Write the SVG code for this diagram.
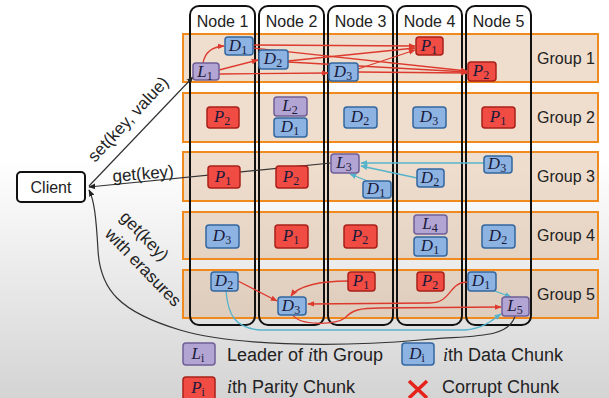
<svg xmlns="http://www.w3.org/2000/svg" width="609" height="398" viewBox="0 0 609 398">
<defs>
<linearGradient id="bg" x1="0" y1="0" x2="0" y2="1">
<stop offset="0" stop-color="#ffffff"/>
<stop offset="0.4" stop-color="#ffffff"/>
<stop offset="1" stop-color="#d4d4d4"/>
</linearGradient>
<marker id="ar" viewBox="0 0 10 10" refX="9" refY="5" markerWidth="7" markerHeight="7" markerUnits="userSpaceOnUse" orient="auto"><path d="M0,1 L10,5 L0,9z" fill="#dd3a2e"/></marker>
<marker id="ac" viewBox="0 0 10 10" refX="9" refY="5" markerWidth="7" markerHeight="7" markerUnits="userSpaceOnUse" orient="auto"><path d="M0,1 L10,5 L0,9z" fill="#55b4cc"/></marker>
<marker id="ak" viewBox="0 0 10 10" refX="9" refY="5" markerWidth="7" markerHeight="7" markerUnits="userSpaceOnUse" orient="auto"><path d="M0,1 L10,5 L0,9z" fill="#222"/></marker>
<style>
.grp{fill:#d9ae88;fill-opacity:0.42;stroke:#f08a1e;stroke-width:2}
.col{fill:none;stroke:#111;stroke-width:2}
.lbl{font-family:"Liberation Sans",Arial,sans-serif;font-size:16px;fill:#222}
.L{fill:#b3a5d3;stroke:#6f5f98;stroke-width:1.5}
.D{fill:#8db3e2;stroke:#33679f;stroke-width:1.5}
.P{fill:#f04c44;stroke:#a82019;stroke-width:1.5}
.ct{font-family:"Liberation Serif","Times New Roman",serif;font-style:italic;font-size:17px;fill:#1a1a3a;text-anchor:middle}
.sub{font-size:12px;font-style:normal}
.rl{fill:none;stroke:#dd3a2e;stroke-width:1.3;marker-end:url(#ar)}
.cl{fill:none;stroke:#55b4cc;stroke-width:1.3;marker-end:url(#ac)}
.kl{fill:none;stroke:#333;stroke-width:1.2;marker-end:url(#ak)}
.it{font-family:"Liberation Serif",serif;font-style:italic}
.lg{font-size:18px}
.rot{font-size:17px}
</style>
</defs>
<rect x="0" y="0" width="609" height="398" fill="url(#bg)"/>

<!-- groups -->
<g id="group1"><rect class="grp" x="183" y="34" width="415" height="48"/><text class="lbl" x="566" y="64" text-anchor="middle">Group 1</text></g>
<g id="group2"><rect class="grp" x="183" y="93" width="415" height="49"/><text class="lbl" x="566" y="123" text-anchor="middle">Group 2</text></g>
<g id="group3"><rect class="grp" x="183" y="152" width="415" height="49"/><text class="lbl" x="566" y="182" text-anchor="middle">Group 3</text></g>
<g id="group4"><rect class="grp" x="183" y="212" width="415" height="47"/><text class="lbl" x="566" y="241" text-anchor="middle">Group 4</text></g>
<g id="group5"><rect class="grp" x="183" y="270" width="415" height="48"/><text class="lbl" x="566" y="300" text-anchor="middle">Group 5</text></g>

<!-- node columns -->
<g id="node1"><rect class="col" x="190" y="6" width="65" height="319" rx="9"/><text class="lbl" x="222.5" y="27" text-anchor="middle">Node 1</text></g>
<g id="node2"><rect class="col" x="259" y="6" width="65" height="319" rx="9"/><text class="lbl" x="291.5" y="27" text-anchor="middle">Node 2</text></g>
<g id="node3"><rect class="col" x="328" y="6" width="65" height="319" rx="9"/><text class="lbl" x="360.5" y="27" text-anchor="middle">Node 3</text></g>
<g id="node4"><rect class="col" x="397" y="6" width="65" height="319" rx="9"/><text class="lbl" x="429.5" y="27" text-anchor="middle">Node 4</text></g>
<g id="node5"><rect class="col" x="466" y="6" width="65" height="319" rx="9"/><text class="lbl" x="498.5" y="27" text-anchor="middle">Node 5</text></g>

<!-- client -->
<g id="client"><rect x="17" y="172" width="68" height="30" rx="4" fill="#fff" stroke="#111" stroke-width="2"/><text class="lbl" x="51" y="193" text-anchor="middle" font-size="17">Client</text></g>

<!-- connectors -->
<g id="connectors">
<path class="rl" d="M203,63 Q206,47 224,46"/>
<path class="rl" d="M219,70 L258,60"/>
<path class="rl" d="M219,74 L328,73"/>
<path class="rl" d="M253,45 L415,46"/>
<path class="rl" d="M253,48 L467,71"/>
<path class="rl" d="M288,61 L415,48"/>
<path class="rl" d="M288,62 L467,72"/>
<path class="rl" d="M358,69 L415,50"/>
<path class="rl" d="M358,72 L467,73"/>

<path class="cl" d="M484,163 L361,163"/>
<path class="cl" d="M417,178 L361,166"/>
<path class="cl" d="M370,182 L350,174"/>

<path class="rl" d="M238,281 L277,301"/>
<path class="rl" d="M348,281 C320,281 298,286 291,296"/>
<path class="rl" d="M468,282 C448,282 452,303 430,303 L308,304"/>
<path class="rl" d="M293,315 C300,326 335,325 345,318 C352,310 360,308 380,308 L501,307"/>
<path class="cl" d="M492,290 L511,297"/>
<path class="cl" d="M226,291 C228,315 235,328 260,330 L465,330 C485,328 492,320 501,314"/>

<path class="kl" d="M89,186 L193,77"/>
<path class="kl" d="M331,163 L89,187"/>
<path class="kl" d="M515,316 C508,340 470,335 420,340 C330,348 230,345 180,330 C120,312 100,290 98,250 C96,215 94,200 89,190"/>
</g>
<text class="lbl rot" transform="translate(95,163) rotate(-47)">set(key, value)</text>
<text class="lbl rot" transform="translate(113,182) rotate(-5)">get(key)</text>
<text class="lbl rot" transform="translate(119,218) rotate(46)">get(key)</text>
<text class="lbl rot" transform="translate(104,235) rotate(46)">with erasures</text>

<!-- chunks group 1 -->
<g id="g1L1"><rect class="L" x="193" y="63" width="26" height="17" rx="3"/><text class="ct" x="205" y="77">L<tspan class="sub" dy="3">1</tspan></text></g>
<g id="g1D1"><rect class="D" x="225" y="37" width="28" height="18" rx="3"/><text class="ct" x="238" y="51">D<tspan class="sub" dy="3">1</tspan></text></g>
<g id="g1D2"><rect class="D" x="259" y="50" width="29" height="19" rx="3"/><text class="ct" x="273" y="64">D<tspan class="sub" dy="3">2</tspan></text></g>
<g id="g1D3"><rect class="D" x="329" y="63" width="29" height="18" rx="3"/><text class="ct" x="343" y="77">D<tspan class="sub" dy="3">3</tspan></text></g>
<g id="g1P1"><rect class="P" x="416" y="37" width="27" height="18" rx="3"/><text class="ct" x="429" y="51">P<tspan class="sub" dy="3">1</tspan></text></g>
<g id="g1P2"><rect class="P" x="468" y="62" width="28" height="19" rx="3"/><text class="ct" x="481" y="76">P<tspan class="sub" dy="3">2</tspan></text></g>

<!-- group 2 -->
<g id="g2P2"><rect class="P" x="207" y="107" width="32" height="21" rx="3"/><text class="ct" x="222" y="122">P<tspan class="sub" dy="3">2</tspan></text></g>
<g id="g2L2"><rect class="L" x="274" y="97" width="33" height="19" rx="3"/><text class="ct" x="290" y="111">L<tspan class="sub" dy="3">2</tspan></text></g>
<g id="g2D1"><rect class="D" x="274" y="118" width="33" height="19" rx="3"/><text class="ct" x="290" y="132">D<tspan class="sub" dy="3">1</tspan></text></g>
<g id="g2D2"><rect class="D" x="344" y="107" width="33" height="21" rx="3"/><text class="ct" x="360" y="122">D<tspan class="sub" dy="3">2</tspan></text></g>
<g id="g2D3"><rect class="D" x="413" y="107" width="33" height="21" rx="3"/><text class="ct" x="429" y="122">D<tspan class="sub" dy="3">3</tspan></text></g>
<g id="g2P1"><rect class="P" x="482" y="107" width="33" height="21" rx="3"/><text class="ct" x="498" y="122">P<tspan class="sub" dy="3">1</tspan></text></g>

<!-- group 3 -->
<g id="g3P1"><rect class="P" x="208" y="166" width="32" height="22" rx="3"/><text class="ct" x="223" y="182">P<tspan class="sub" dy="3">1</tspan></text></g>
<g id="g3P2"><rect class="P" x="276" y="166" width="32" height="22" rx="3"/><text class="ct" x="291" y="182">P<tspan class="sub" dy="3">2</tspan></text></g>
<g id="g3L3"><rect class="L" x="331" y="154" width="28" height="19" rx="3"/><text class="ct" x="344" y="168">L<tspan class="sub" dy="3">3</tspan></text></g>
<g id="g3D1"><rect class="D" x="363" y="181" width="28" height="17" rx="3"/><text class="ct" x="376" y="194">D<tspan class="sub" dy="3">1</tspan></text></g>
<g id="g3D2"><rect class="D" x="417" y="169" width="27" height="18" rx="3"/><text class="ct" x="430" y="183">D<tspan class="sub" dy="3">2</tspan></text></g>
<g id="g3D3"><rect class="D" x="484" y="156" width="28" height="17" rx="3"/><text class="ct" x="497" y="169">D<tspan class="sub" dy="3">3</tspan></text></g>

<!-- group 4 -->
<g id="g4D3"><rect class="D" x="206" y="225" width="33" height="23" rx="3"/><text class="ct" x="222" y="241">D<tspan class="sub" dy="3">3</tspan></text></g>
<g id="g4P1"><rect class="P" x="275" y="225" width="33" height="23" rx="3"/><text class="ct" x="291" y="241">P<tspan class="sub" dy="3">1</tspan></text></g>
<g id="g4P2"><rect class="P" x="344" y="225" width="33" height="23" rx="3"/><text class="ct" x="360" y="241">P<tspan class="sub" dy="3">2</tspan></text></g>
<g id="g4L4"><rect class="L" x="414" y="215" width="33" height="19" rx="3"/><text class="ct" x="430" y="229">L<tspan class="sub" dy="3">4</tspan></text></g>
<g id="g4D1"><rect class="D" x="414" y="237" width="33" height="19" rx="3"/><text class="ct" x="430" y="251">D<tspan class="sub" dy="3">1</tspan></text></g>
<g id="g4D2"><rect class="D" x="482" y="225" width="33" height="23" rx="3"/><text class="ct" x="498" y="241">D<tspan class="sub" dy="3">2</tspan></text></g>

<!-- group 5 -->
<g id="g5D2"><rect class="D" x="211" y="272" width="27" height="19" rx="3"/><text class="ct" x="224" y="286">D<tspan class="sub" dy="3">2</tspan></text></g>
<g id="g5D3"><rect class="D" x="278" y="297" width="28" height="18" rx="3"/><text class="ct" x="291" y="311">D<tspan class="sub" dy="3">3</tspan></text></g>
<g id="g5P1"><rect class="P" x="348" y="272" width="27" height="19" rx="3"/><text class="ct" x="361" y="286">P<tspan class="sub" dy="3">1</tspan></text></g>
<g id="g5P2"><rect class="P" x="417" y="272" width="27" height="19" rx="3"/><text class="ct" x="430" y="286">P<tspan class="sub" dy="3">2</tspan></text></g>
<g id="g5D1"><rect class="D" x="468" y="272" width="28" height="19" rx="3"/><text class="ct" x="481" y="286">D<tspan class="sub" dy="3">1</tspan></text></g>
<g id="g5L5"><rect class="L" x="502" y="297" width="27" height="19" rx="3"/><text class="ct" x="515" y="311">L<tspan class="sub" dy="3">5</tspan></text></g>

<!-- legend -->
<g id="legend">
<rect class="L" x="183" y="343" width="32" height="22" rx="3"/><text class="ct" x="198" y="359">L<tspan class="sub" dy="3" font-style="italic">i</tspan></text>
<text class="lbl lg" x="227" y="361">Leader of <tspan class="it">i</tspan>th Group</text>
<rect class="D" x="402" y="343" width="32" height="22" rx="3"/><text class="ct" x="417" y="359">D<tspan class="sub" dy="3" font-style="italic">i</tspan></text>
<text class="lbl lg" x="443" y="361"><tspan class="it">i</tspan>th Data Chunk</text>
<rect class="P" x="183" y="377" width="32" height="23" rx="3"/><text class="ct" x="198" y="393">P<tspan class="sub" dy="3" font-style="italic">i</tspan></text>
<text class="lbl lg" x="227" y="393"><tspan class="it">i</tspan>th Parity Chunk</text>
<path d="M409,381 L427,398 M427,381 L409,398" stroke="#e5231b" stroke-width="3.5" fill="none"/>
<text class="lbl lg" x="442" y="393">Corrupt Chunk</text>
</g>
</svg>
